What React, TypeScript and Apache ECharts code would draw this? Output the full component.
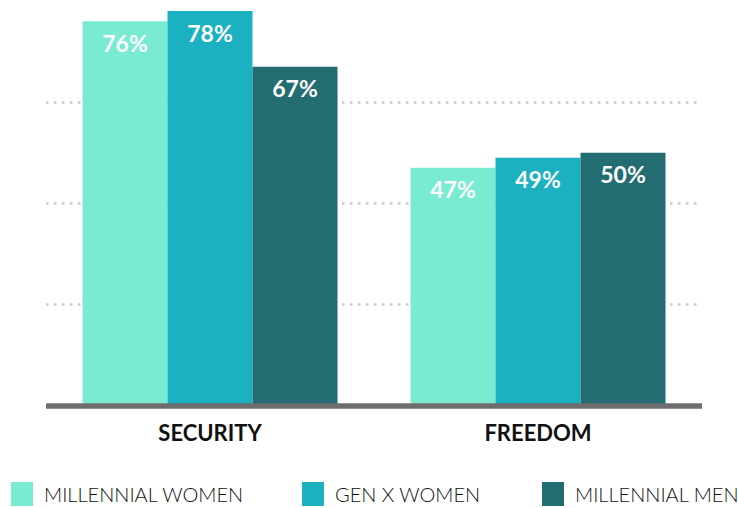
import React, { useEffect, useRef } from "react";
import * as echarts from "echarts";

const categories = ["SECURITY", "FREEDOM"];
const seriesNames = ["MILLENNIAL WOMEN", "GEN X WOMEN", "MILLENNIAL MEN"];
const millennialWomen = [76, 47];
const genXWomen = [78, 49];
const millennialMen = [67, 50];
const colors = ["#7AEBD3", "#1CB1C0", "#236D72"];
const legendLefts = [11, 302, 542];

export default function App() {
  const ref = useRef<HTMLDivElement>(null);
  useEffect(() => {
    document.body.style.margin = "0";
    const chart = echarts.init(ref.current!, undefined, { renderer: "svg" });
    const values = [millennialWomen, genXWomen, millennialMen];
    const font = "Lato, 'DejaVu Sans', sans-serif";
    chart.setOption({
      animation: false,
      textStyle: { fontFamily: font },
      grid: { left: 46, right: 36, top: 1, bottom: 102.5, containLabel: false },
      legend: seriesNames.map((n, i) => ({
        data: [n],
        left: legendLefts[i],
        top: 482,
        itemWidth: 22,
        itemHeight: 24,
        icon: "rect",
        selectedMode: false,
        padding: 0,
        textStyle: {
          fontFamily: font,
          fontSize: 20,
          fontWeight: 300,
          color: "#111",
          padding: [2, 0, 0, 6],
        },
      })),
      xAxis: {
        type: "category",
        data: categories,
        offset: 2,
        axisLine: { lineStyle: { color: "#6e6e6e", width: 5.5, cap: "butt" } },
        axisTick: { show: false },
        axisLabel: {
          margin: 14,
          fontSize: 22,
          fontWeight: "bold",
          color: "#111",
          fontFamily: font,
        },
        z: 10,
      },
      yAxis: {
        type: "value",
        min: 0,
        max: 80,
        interval: 20,
        axisLine: { show: false },
        axisTick: { show: false },
        axisLabel: { show: false },
        splitLine: {
          show: true,
          showMinLine: false,
          showMaxLine: false,
          lineStyle: { color: "#cccccc", width: 2.5, type: [2.5, 5.5] },
        },
      },
      series: seriesNames.map((n, i) => ({
        name: n,
        type: "bar",
        data: values[i],
        barWidth: 85,
        barGap: "0%",
        itemStyle: { color: colors[i] },
        label: {
          show: true,
          position: "insideTop",
          distance: 10,
          formatter: "{c}%",
          color: "#fff",
          fontSize: 23,
          fontWeight: "bold",
          fontFamily: font,
        },
      })),
    });
    return () => chart.dispose();
  }, []);
  return <div ref={ref} style={{ width: 738, height: 508 }} />;
}
